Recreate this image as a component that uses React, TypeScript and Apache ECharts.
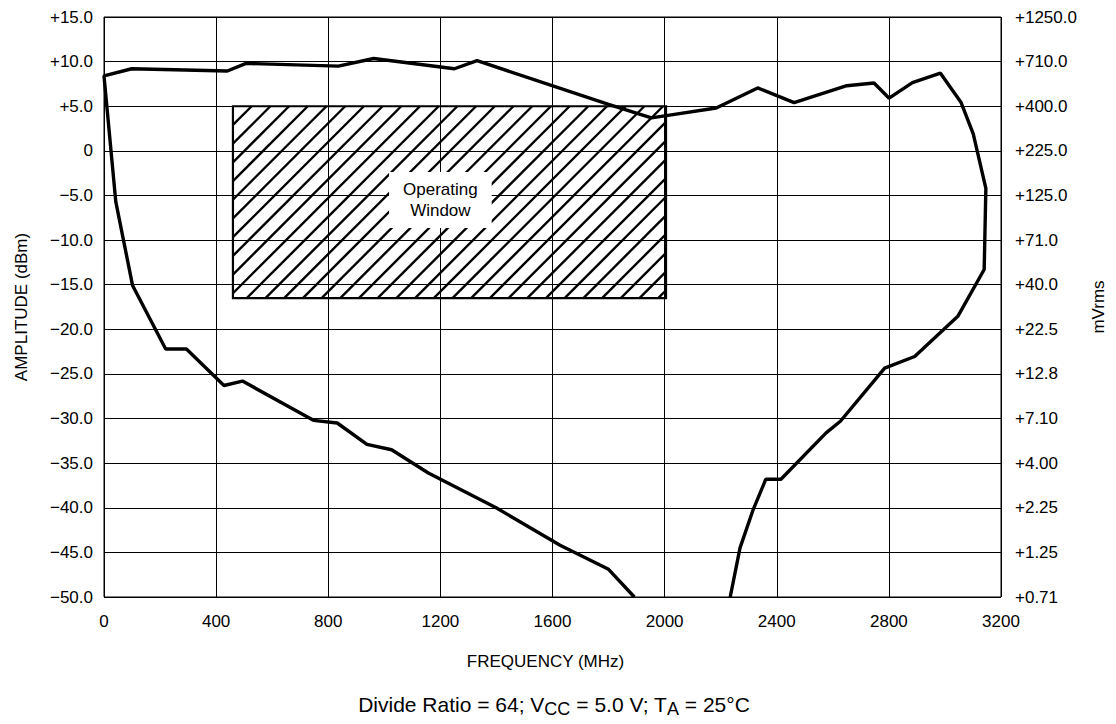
import React, { useEffect, useRef } from "react";
import * as echarts from "echarts";

// Sensitivity boundary (one continuous trace), frequency in MHz
const freqMHz = [
  1892, 1800, 1627, 1399, 1157, 1026, 938, 832, 747, 494, 428, 294, 220, 102, 42, 0,
  99, 440, 507, 836, 962, 1250, 1331, 1800, 1953, 2006, 2184, 2332, 2462, 2650, 2747,
  2801, 2884, 2984, 3057, 3101, 3146, 3140, 3047, 2892, 2785, 2627, 2576, 2415, 2361,
  2316, 2269, 2234,
];
// Amplitude in dBm
const amplitudeDbm = [
  -50, -46.9, -44.2, -40.0, -36.1, -33.5, -32.9, -30.5, -30.2, -25.8, -26.3, -22.2,
  -22.2, -15.1, -5.7, 8.4, 9.2, 8.95, 9.8, 9.5, 10.35, 9.2, 10.1, 5.2, 3.7, 3.95, 4.8,
  7.05, 5.4, 7.3, 7.6, 5.9, 7.65, 8.7, 5.45, 1.9, -4.2, -13.3, -18.5, -23.05, -24.35,
  -30.3, -31.6, -36.8, -36.8, -40.2, -44.5, -50,
];

// Left axis labels, from -50 to +15
const leftTickLabels = [
  "\u221250.0", "\u221245.0", "\u221240.0", "\u221235.0", "\u221230.0", "\u221225.0",
  "\u221220.0", "\u221215.0", "\u221210.0", "\u22125.0", "0", "+5.0", "+10.0", "+15.0",
];
// Right axis labels (mVrms), same ticks
const rightTickLabels = [
  "+0.71", "+1.25", "+2.25", "+4.00", "+7.10", "+12.8", "+22.5", "+40.0", "+71.0",
  "+125.0", "+225.0", "+400.0", "+710.0", "+1250.0",
];

// Operating window: frequency range and amplitude range
const windowFreq = [460, 2005];
const windowAmp = [-16.5, 5];
const windowText = "Operating\nWindow";

const FONT = '"Liberation Sans", Arial, Helvetica, sans-serif';

export default function App() {
  const ref = useRef<HTMLDivElement>(null);

  useEffect(() => {
    if (!ref.current) return;
    const chart = echarts.init(ref.current, null, { renderer: "svg" });

    const labelAt = [1200, -5.5];
    const hatchStep = 18.7;

    const renderWindow = (_params: any, api: any) => {
      const pA = api.coord([api.value(0), api.value(3)]);
      const pB = api.coord([api.value(1), api.value(2)]);
      const L = Math.min(pA[0], pB[0]);
      const R = Math.max(pA[0], pB[0]);
      const T = Math.min(pA[1], pB[1]);
      const B = Math.max(pA[1], pB[1]);
      const children: any[] = [];
      for (let c = L + T + hatchStep; c < R + B; c += hatchStep) {
        const xa = Math.max(L, c - B);
        const xb = Math.min(R, c - T);
        if (xb - xa < 0.5) continue;
        children.push({
          type: "line",
          shape: { x1: xa, y1: c - xa, x2: xb, y2: c - xb },
          style: { stroke: "#000", lineWidth: 2.4 },
        });
      }
      children.push({
        type: "rect",
        shape: { x: L, y: T, width: R - L, height: B - T },
        style: { fill: "none", stroke: "#000", lineWidth: 2.2 },
      });
      const lp = api.coord(labelAt);
      children.push({
        type: "text",
        x: lp[0],
        y: lp[1],
        style: {
          text: windowText,
          fill: "#000",
          fontSize: 17,
          fontFamily: FONT,
          align: "center",
          verticalAlign: "middle",
          lineHeight: 21,
          backgroundColor: "#fff",
          padding: [7, 14],
        },
      });
      return { type: "group", children };
    };

    const axisText = { color: "#000", fontSize: 17, fontFamily: FONT };

    chart.setOption({
      animation: false,
      backgroundColor: "#fff",
      grid: {
        left: 104,
        right: 115,
        top: 17,
        bottom: 127,
        show: true,
        borderColor: "#000",
        borderWidth: 1,
      },
      xAxis: {
        type: "value",
        min: 0,
        max: 3200,
        interval: 400,
        name: "FREQUENCY (MHz)",
        nameLocation: "middle",
        nameGap: 56,
        nameTextStyle: { ...axisText, padding: [0, 14, 0, 0] },
        axisLine: { show: false },
        axisTick: { show: false },
        axisLabel: { ...axisText, margin: 16, formatter: (v: number) => String(v) },
        splitLine: { show: true, lineStyle: { color: "#000", width: 1 } },
      },
      yAxis: [
        {
          type: "value",
          min: -50,
          max: 15,
          interval: 5,
          name: "AMPLITUDE (dBm)",
          nameLocation: "middle",
          nameGap: 74,
          nameTextStyle: axisText,
          axisLine: { show: false },
          axisTick: { show: false },
          axisLabel: {
            ...axisText,
            margin: 11,
            formatter: (v: number) => leftTickLabels[Math.round((v + 50) / 5)],
          },
          splitLine: { show: true, lineStyle: { color: "#000", width: 1 } },
        },
        {
          type: "value",
          position: "right",
          min: -50,
          max: 15,
          interval: 5,
          name: "mVrms",
          nameLocation: "middle",
          nameGap: 89,
          nameTextStyle: axisText,
          axisLine: { show: false },
          axisTick: { show: false },
          axisLabel: {
            ...axisText,
            margin: 14,
            formatter: (v: number) => rightTickLabels[Math.round((v + 50) / 5)],
          },
          splitLine: { show: false },
        },
      ],
      graphic: [
        {
          type: "text",
          x: 554,
          y: 706,
          style: {
            text: "{a|Divide Ratio = 64; V}{s|CC}{a| = 5.0 V; T}{s|A}{a| = 25°C}",
            align: "center",
            verticalAlign: "middle",
            rich: {
              a: { fontSize: 21, fontFamily: FONT, fill: "#000", lineHeight: 24, verticalAlign: "top" },
              s: {
                fontSize: 18,
                fontFamily: FONT,
                fill: "#000",
                lineHeight: 24,
                padding: [5, 0, 0, 0],
                verticalAlign: "bottom",
              },
            },
          },
        },
      ],
      series: [
        {
          type: "custom",
          renderItem: renderWindow,
          data: [[windowFreq[0], windowFreq[1], windowAmp[1], windowAmp[0]]],
          encode: { x: [0, 1], y: [2, 3] },
          z: 3,
          silent: true,
        },
        {
          type: "line",
          data: freqMHz.map((f, i) => [f, amplitudeDbm[i]]),
          showSymbol: false,
          lineStyle: { color: "#000", width: 3.4 },
          z: 5,
          silent: true,
        },
      ],
    });

    return () => chart.dispose();
  }, []);

  return (
    <div
      ref={ref}
      style={{ position: "fixed", left: 0, top: 0, width: 1116, height: 724 }}
    />
  );
}
